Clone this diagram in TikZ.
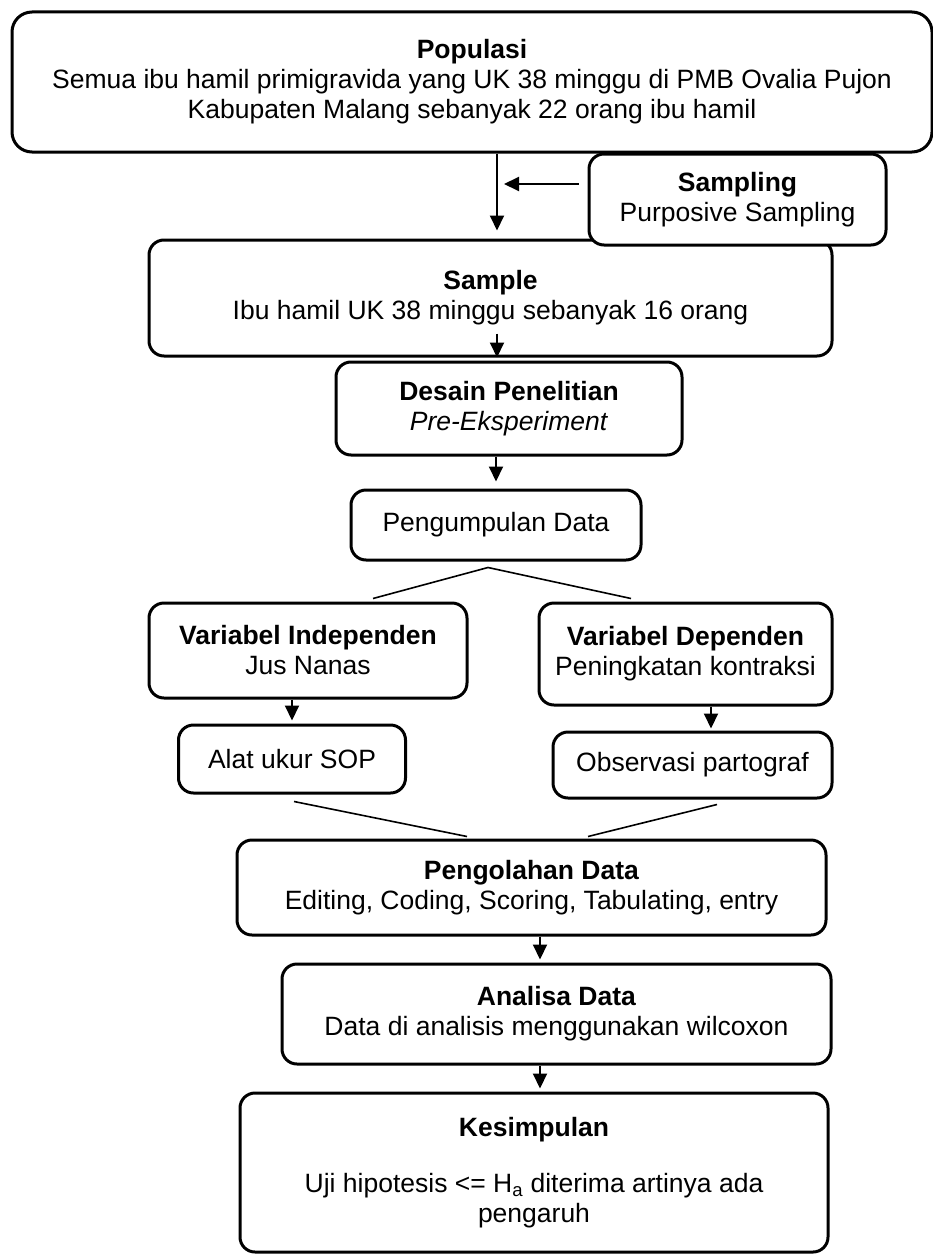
\documentclass[tikz,border=0pt]{standalone}
\usepackage{fontspec}
\setmainfont{Liberation Sans}
\usetikzlibrary{arrows.meta}
\usetikzlibrary{positioning}

\begin{document}
\begin{tikzpicture}[x=1pt,y=-1pt,
  box/.style={draw,line width=3pt,rounded corners=15pt,fill=white,align=center,inner sep=0pt,font=\fontsize{26.5}{30}\selectfont},
  arr/.style={line width=2pt,-{Triangle[width=14pt,length=15pt]}},
  split/.style={line width=1.6pt}]
  \useasboundingbox (0,0) rectangle (933,1255);
  \node[box,rounded corners=20pt,minimum width=920pt,minimum height=140pt] (pop) at (472,82) {\textbf{Populasi}\\Semua ibu hamil primigravida yang UK 38 minggu di PMB Ovalia Pujon\\Kabupaten Malang sebanyak 22 orang ibu hamil};
  \node[box,minimum width=683pt,minimum height=116pt] (sample) at (490.5,298) {\textbf{Sample}\\Ibu hamil UK 38 minggu sebanyak 16 orang};
  \node[box,minimum width=297pt,minimum height=91pt] (samp) at (737.5,199.5) {\textbf{Sampling}\\Purposive Sampling};
  \node[box,minimum width=346pt,minimum height=93pt] (desain) at (509,408.5) {\textbf{Desain Penelitian}\\\textit{Pre-Eksperiment}};
  \node[box,minimum width=290pt,minimum height=70pt] (kumpul) at (496,525) {Pengumpulan Data};
  \node[box,minimum width=318pt,minimum height=95pt] (indep) at (308,650.5) {\textbf{Variabel Independen}\\Jus Nanas};
  \node[box,minimum width=293pt,minimum height=102pt] (dep) at (685.5,654) {\textbf{Variabel Dependen}\\Peningkatan kontraksi};
  \node[box,minimum width=227pt,minimum height=68pt] (alat) at (292,759) {Alat ukur SOP};
  \node[box,minimum width=279pt,minimum height=66pt] (obs) at (692.5,765) {Observasi partograf};
  \node[box,minimum width=589pt,minimum height=95pt] (olah) at (531.5,887.5) {\textbf{Pengolahan Data}\\Editing, Coding, Scoring, Tabulating, entry};
  \node[box,minimum width=549pt,minimum height=100pt] (analisa) at (556.5,1014) {\textbf{Analisa Data}\\Data di analisis menggunakan wilcoxon};
  \node[box,minimum width=588pt,minimum height=159pt] (kes) at (534,1172.5) {\textbf{Kesimpulan}\\[26pt]Uji hipotesis <= H\textsubscript{a} diterima artinya ada\\pengaruh};
  \coordinate (tap) at (504,184);
  \draw[arr]([xshift=25pt]pop.south)--([xshift=6.5pt,yshift=8pt]sample.north);
  \draw[arr]([xshift=-9pt,yshift=15.5pt]samp.west)--(tap);
  \draw[arr]([xshift=6.5pt,yshift=24pt]sample.south)--([xshift=6.5pt]sample.south);
  \draw[arr]([xshift=-13pt]desain.south)--([yshift=7pt]kumpul.north);
  \draw[split]([xshift=-8pt,yshift=-6pt]kumpul.south)--([xshift=65pt,yshift=3pt]indep.north);
  \draw[split]([xshift=-8pt,yshift=-6pt]kumpul.south)--([xshift=-54.5pt,yshift=3pt]dep.north);
  \draw[arr]([xshift=-16pt]indep.south)--([yshift=3pt]alat.north);
  \draw[arr]([xshift=25.5pt]dep.south)--([xshift=18.5pt,yshift=2pt]obs.north);
  \draw[split]([xshift=2pt,yshift=-7pt]alat.south)--([xshift=-64.5pt,yshift=2pt]olah.north);
  \draw[split]([xshift=24.5pt,yshift=-5pt]obs.south)--([xshift=56.5pt,yshift=2pt]olah.north);
  \draw[arr]([xshift=8.5pt]olah.south)--([xshift=-16.5pt,yshift=3pt]analisa.north);
  \draw[arr]([xshift=-16.5pt]analisa.south)--([xshift=6pt,yshift=3pt]kes.north);
\end{tikzpicture}
\end{document}
